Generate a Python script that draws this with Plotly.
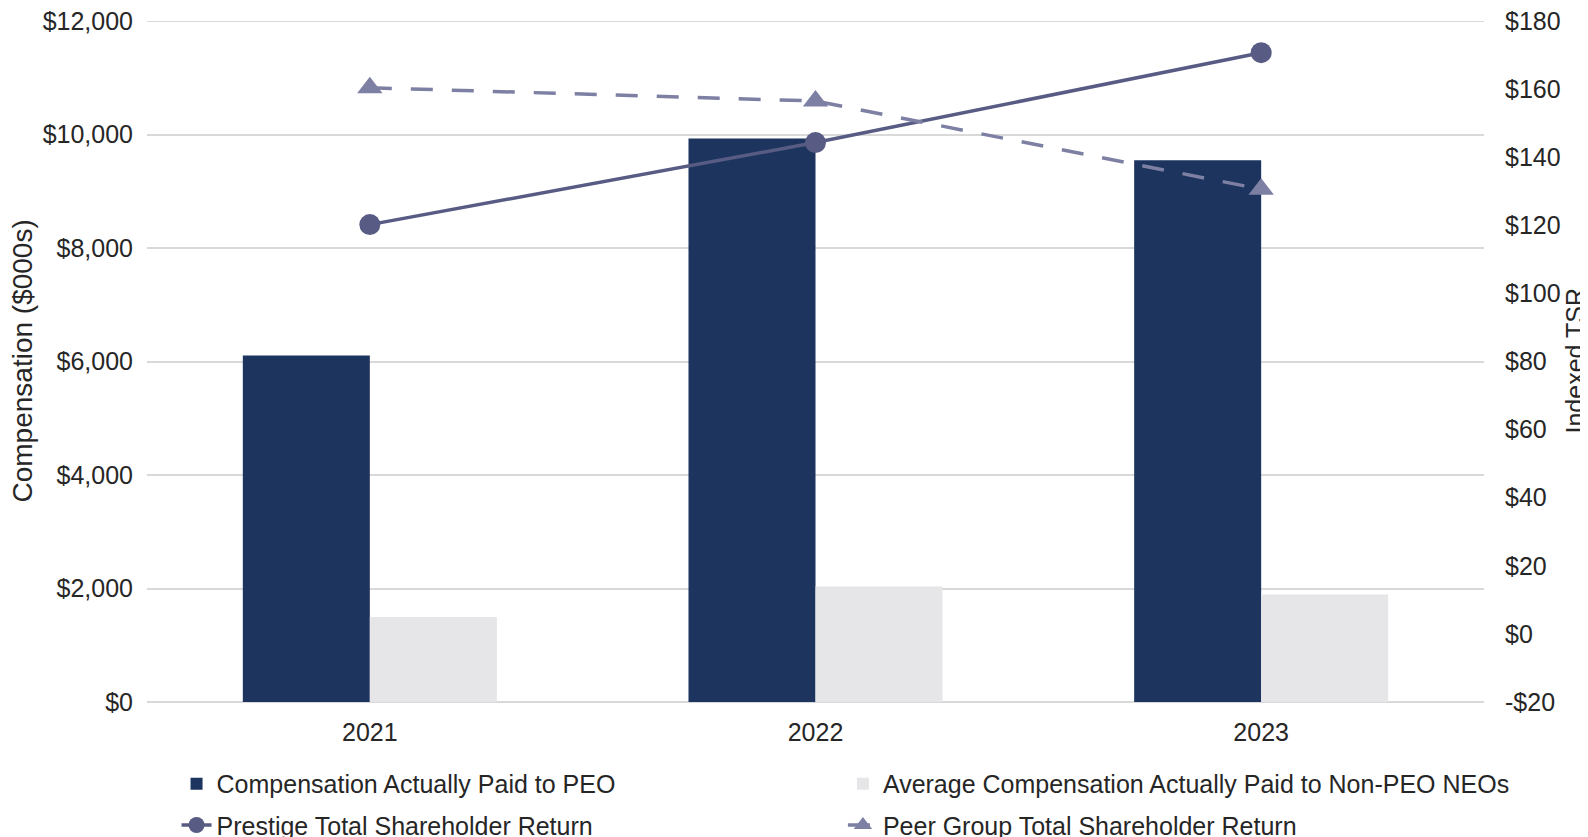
import plotly.graph_objects as go

years = ["2021", "2022", "2023"]
peo_cap = [6107, 9929, 9545]
neo_cap = [1500, 2036, 1893]
prestige_tsr = [120.2, 144.3, 170.7]
peer_tsr = [160.4, 156.5, 130.6]

left_ticks = [0, 2000, 4000, 6000, 8000, 10000, 12000]
left_labels = ["$0", "$2,000", "$4,000", "$6,000", "$8,000", "$10,000", "$12,000"]
right_ticks = [-20, 0, 20, 40, 60, 80, 100, 120, 140, 160, 180]
right_labels = ["-$20", "$0", "$20", "$40", "$60", "$80", "$100", "$120", "$140", "$160", "$180"]

font_family = "Liberation Sans, Arial, sans-serif"
text_color = "#262626"
grid_color = "#d9d9d9"

fig = go.Figure()
fig.add_trace(go.Bar(x=years, y=peo_cap, name="Compensation Actually Paid to PEO",
                     marker=dict(color="#1d355e", line=dict(width=0)), legend="legend"))
fig.add_trace(go.Bar(x=years, y=neo_cap, name="Average Compensation Actually Paid to Non-PEO NEOs",
                     marker=dict(color="#e6e6e8", line=dict(width=0)), legend="legend2"))
fig.add_trace(go.Scatter(x=years, y=prestige_tsr, name="Prestige Total Shareholder Return",
                         yaxis="y2", mode="lines+markers", legend="legend3",
                         line=dict(color="#585b83", width=3.5),
                         marker=dict(symbol="circle", size=21, color="#585b83")))
fig.add_trace(go.Scatter(x=years, y=peer_tsr, name="Peer Group Total Shareholder Return",
                         yaxis="y2", mode="lines+markers", legend="legend4",
                         line=dict(color="#7d7fa3", width=3.5, dash="22px,19px"),
                         marker=dict(symbol="triangle-up", size=22, color="#7d7fa3")))

# top gridline (plotly clips gridlines lying exactly on the plot edge)
fig.add_shape(type="line", xref="paper", yref="y", x0=0, x1=1,
              y0=left_ticks[-1], y1=left_ticks[-1],
              line=dict(color=grid_color, width=2), layer="below")

legend_common = dict(orientation="h", xanchor="left", yanchor="middle",
                     font=dict(size=25, color=text_color, family=font_family),
                     bgcolor="rgba(0,0,0,0)")
col1_x, col2_x = 0.0221, 0.5205
row1_y, row2_y = -0.1204, -0.1810

fig.update_layout(
    width=1588, height=837,
    margin=dict(l=139, r=112, t=13, b=143, autoexpand=False),
    paper_bgcolor="white", plot_bgcolor="white",
    font=dict(family=font_family, size=25, color=text_color),
    barmode="group", bargap=0.43, bargroupgap=0,
    showlegend=True,
    legend=dict(x=col1_x, y=row1_y, **legend_common),
    legend2=dict(x=col2_x, y=row1_y, **legend_common),
    legend3=dict(x=col1_x, y=row2_y, **legend_common),
    legend4=dict(x=col2_x, y=row2_y, **legend_common),
    xaxis=dict(type="category", showgrid=False, showline=False, zeroline=False,
               ticks="", ticklabelstandoff=13, tickfont=dict(size=25), automargin=False),
    yaxis=dict(range=[0, 12000], tickvals=left_ticks, ticktext=left_labels,
               showgrid=True, gridcolor=grid_color, gridwidth=2,
               zeroline=True, zerolinecolor=grid_color, zerolinewidth=2,
               showline=False, ticks="", ticklabelstandoff=13, automargin=False,
               ticklabeloverflow="allow", tickfont=dict(size=25)),
    yaxis2=dict(range=[-20, 180], tickvals=right_ticks, ticktext=right_labels,
                overlaying="y", side="right", showgrid=False, zeroline=False,
                showline=False, ticks="", ticklabelstandoff=20, automargin=False,
                ticklabeloverflow="allow", tickfont=dict(size=25)),
    annotations=[
        dict(text="Compensation ($000s)", xref="paper", yref="paper",
             x=(14 - 139) / 1337, y=0.5, xanchor="center", yanchor="middle", textangle=-90,
             showarrow=False, font=dict(size=28, color=text_color)),
        dict(text="Indexed TSR", xref="paper", yref="paper",
             x=1 + 90 / 1337, y=0.5, xanchor="center", yanchor="middle", textangle=-90,
             showarrow=False, font=dict(size=25, color=text_color)),
    ],
)

fig.write_html("out.html")
